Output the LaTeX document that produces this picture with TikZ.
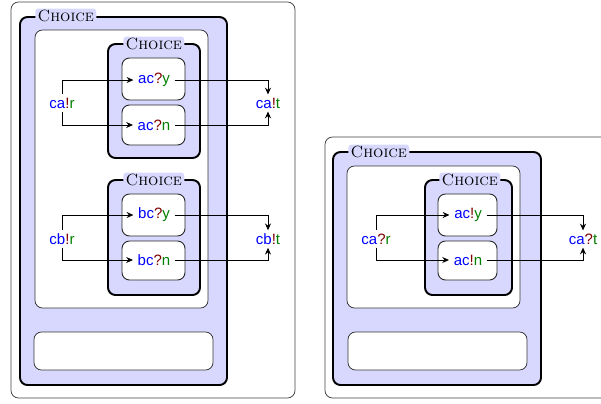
\documentclass[tikz,border=0pt]{standalone}
\usepackage{fontspec}
\newfontfamily\chanfont{Liberation Sans}
\usetikzlibrary{fit,arrows.meta}

\definecolor{choicefill}{RGB}{216,216,255}
\definecolor{chblue}{RGB}{0,0,255}
\definecolor{chred}{RGB}{128,0,0}
\definecolor{chgreen}{RGB}{0,128,0}

\newcommand{\chan}[3]{{\chanfont\textcolor{chblue}{#1}\textcolor{chred}{#2}\textcolor{chgreen}{#3}}}
\newcommand{\choicetag}{{\fontsize{10.8}{12}\selectfont\textsc{Choice}}}

\tikzset{
  outerbox/.style={draw=black!75, line width=0.5pt, rounded corners=5pt, inner sep=0pt},
  choicebox/.style={draw=black, fill=choicefill, line width=1.3pt, rounded corners=5pt, inner sep=0pt},
  whitebox/.style={draw=black!80, fill=white, line width=0.5pt, rounded corners=5pt, inner sep=0pt},
  actbox/.style={draw=black!85, fill=white, line width=0.6pt, rounded corners=5pt, inner sep=0pt},
  choicelabel/.style={fill=choicefill, rounded corners=2pt, inner xsep=1.5pt, inner ysep=1pt, anchor=west},
  chantext/.style={inner xsep=3pt, inner ysep=2pt},
  flow/.style={>={Stealth[length=4.5pt,width=4pt]}, ->, line width=0.6pt}
}

\begin{document}
\begin{tikzpicture}[x=0.6667pt, y=-0.6667pt]
\clip (0,0) rectangle (601,403);

% left system
\node [outerbox, fit={(11,2) (295,398)}] (outerA) {};
\node [choicebox, fit={(20,17) (227,385)}] (choiceA) {};
\node [choicelabel] at (35,16) {\choicetag};
\node [whitebox, fit={(35,30) (208,308)}] (bodyA) {};
\node [whitebox, fit={(34,332) (213,370)}] (restA) {};

% first inner choice
\node [choicebox, fit={(108,44) (200,158)}] (choiceAa) {};
\node [choicelabel] at (123,44) {\choicetag};
\node [actbox, fit={(122,58) (185,100)}] (boxAay) {};
\node [actbox, fit={(122,105) (185,145)}] (boxAan) {};
\node [chantext] (acy) at (154,80) {\chan{ac}{?}{y}};
\node [chantext] (acn) at (154,125) {\chan{ac}{?}{n}};
\node [chantext] (car) at (62,103) {\chan{ca}{!}{r}};
\node [chantext] (cat) at (268,103) {\chan{ca}{!}{t}};

\draw [flow] (car) |- (acy);
\draw [flow] (car) |- (acn);
\draw [flow] (acy) -| (cat);
\draw [flow] (acn) -| (cat);

% second inner choice
\node [choicebox, fit={(108,180) (200,295)}] (choiceAb) {};
\node [choicelabel] at (123,180) {\choicetag};
\node [actbox, fit={(122,194) (185,236)}] (boxAby) {};
\node [actbox, fit={(122,241) (185,280)}] (boxAbn) {};
\node [chantext] (bcy) at (154,215) {\chan{bc}{?}{y}};
\node [chantext] (bcn) at (154,260) {\chan{bc}{?}{n}};
\node [chantext] (cbr) at (62,239) {\chan{cb}{!}{r}};
\node [chantext] (cbt) at (268,239) {\chan{cb}{!}{t}};

\draw [flow] (cbr) |- (bcy);
\draw [flow] (cbr) |- (bcn);
\draw [flow] (bcy) -| (cbt);
\draw [flow] (bcn) -| (cbt);

% right system
\node [outerbox, fit={(325,137) (640,398)}] (outerB) {};
\node [choicebox, fit={(333,152) (541,385)}] (choiceB) {};
\node [choicelabel] at (348,152) {\choicetag};
\node [whitebox, fit={(347,166) (520,308)}] (bodyB) {};
\node [whitebox, fit={(348,332) (527,370)}] (restB) {};

\node [choicebox, fit={(425,180) (512,295)}] (choiceBa) {};
\node [choicelabel] at (439,180) {\choicetag};
\node [actbox, fit={(438,194) (497,236)}] (boxBy) {};
\node [actbox, fit={(438,241) (497,280)}] (boxBn) {};
\node [chantext] (acsy) at (468,215) {\chan{ac}{!}{y}};
\node [chantext] (acsn) at (468,260) {\chan{ac}{!}{n}};
\node [chantext] (car2) at (376,239) {\chan{ca}{?}{r}};
\node [chantext] (cat2) at (583,239) {\chan{ca}{?}{t}};

\draw [flow] (car2) |- (acsy);
\draw [flow] (car2) |- (acsn);
\draw [flow] (acsy) -| (cat2);
\draw [flow] (acsn) -| (cat2);
\end{tikzpicture}
\end{document}
